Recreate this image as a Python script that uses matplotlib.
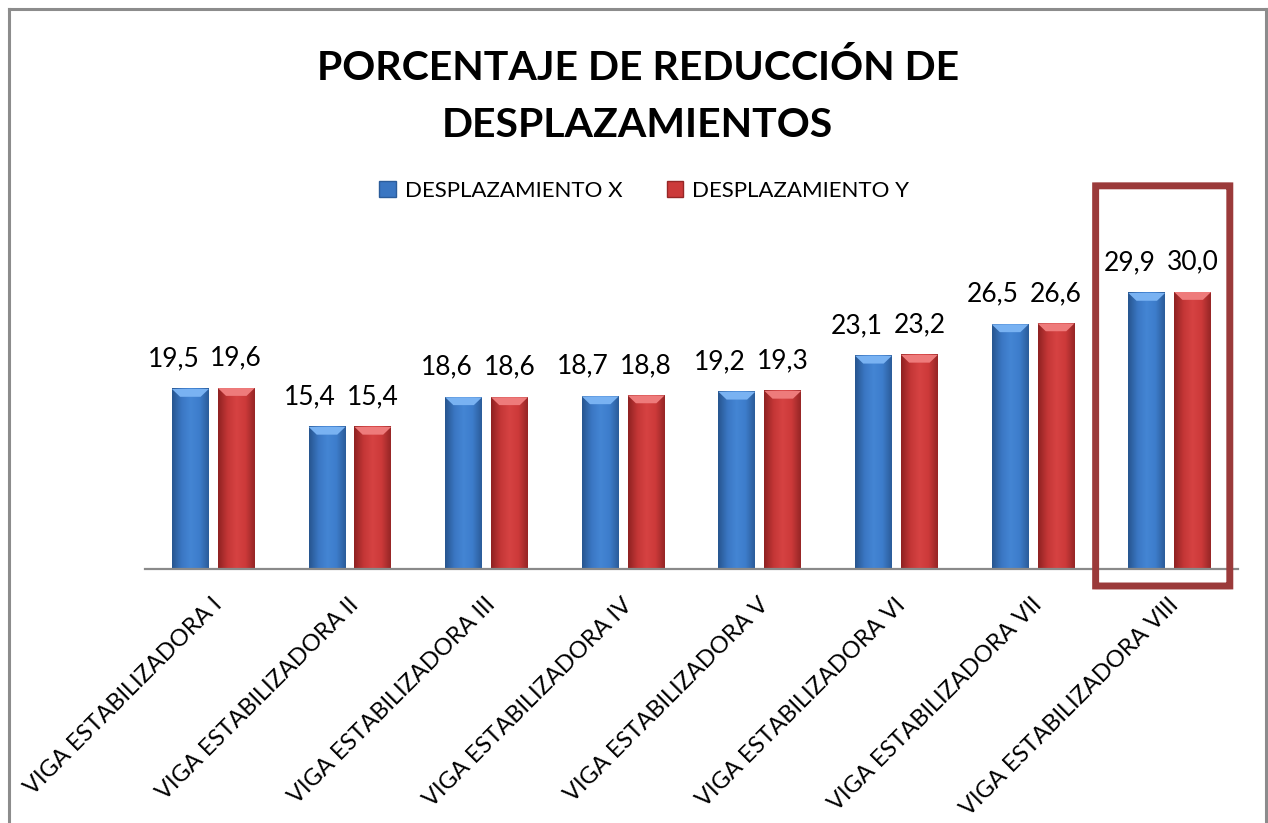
import numpy as np
import matplotlib
matplotlib.use("Agg")
import matplotlib.pyplot as plt
import matplotlib.transforms as mtransforms
from matplotlib.patches import Polygon, FancyBboxPatch, Patch
from matplotlib.colors import LinearSegmentedColormap
from matplotlib.lines import Line2D

plt.rcParams['font.family'] = ['Lato', 'DejaVu Sans']

categories = ["VIGA ESTABILIZADORA I", "VIGA ESTABILIZADORA II", "VIGA ESTABILIZADORA III",
              "VIGA ESTABILIZADORA IV", "VIGA ESTABILIZADORA V", "VIGA ESTABILIZADORA VI",
              "VIGA ESTABILIZADORA VII", "VIGA ESTABILIZADORA VIII"]
desp_x = [19.5, 15.4, 18.6, 18.7, 19.2, 23.1, 26.5, 29.9]
desp_y = [19.6, 15.4, 18.6, 18.8, 19.3, 23.2, 26.6, 30.0]
series_names = ["DESPLAZAMIENTO X", "DESPLAZAMIENTO Y"]
title_lines = ["PORCENTAJE DE REDUCCIÓN DE", "DESPLAZAMIENTOS"]
highlight_index = 7

W, H = 1268, 823
fig = plt.figure(figsize=(W / 100, H / 100), dpi=100)
ax = fig.add_axes([145 / W, 1 - 569 / H, (1238 - 145) / W, (569 - 180) / H])
ax.set_xlim(-0.5, len(categories) - 0.5)
ax.set_ylim(0, 42.13)

blue_cmap = LinearSegmentedColormap.from_list(
    "b", ["#27558f", "#3a76c2", "#4485d4", "#3d7dcb", "#2b5c9a"])
red_cmap = LinearSegmentedColormap.from_list(
    "r", ["#8f2222", "#c33636", "#d64242", "#cc3a3a", "#962626"])
grad = np.linspace(0, 1, 64).reshape(1, -1)

bw = 0.27
off = 0.168
xs = np.arange(len(categories))


def fancy_bars(xpos, vals, cmap, top_color, label_shift_px):
    bars = ax.bar(xpos, vals, width=bw, color="none", zorder=3)
    shift = mtransforms.ScaledTranslation(label_shift_px / 100, 0, fig.dpi_scale_trans)
    for b in bars:
        x0, w, h = b.get_x(), b.get_width(), b.get_height()
        ax.imshow(grad, cmap=cmap, extent=[x0, x0 + w, 0, h], aspect="auto",
                  zorder=2, interpolation="bicubic")
        bh, bx = 0.85, 0.06
        ax.add_patch(Polygon([[x0, h], [x0 + w, h], [x0 + w - bx, h - bh],
                              [x0 + bx, h - bh]], closed=True,
                             facecolor=top_color, edgecolor="none", zorder=3))
        ax.text(x0 + w / 2, h + 1.9, f"{h:.1f}".replace(".", ","), ha="center",
                va="bottom", fontsize=19, color="black",
                transform=ax.transData + shift, zorder=5)
    return bars


fancy_bars(xs - off, desp_x, blue_cmap, "#79b2f2", -17)
fancy_bars(xs + off, desp_y, red_cmap, "#ee7b7b", 0)

ax.set_xlim(-0.5, len(categories) - 0.5)
ax.set_ylim(0, 42.13)

for s in ["top", "right", "left"]:
    ax.spines[s].set_visible(False)
ax.spines["bottom"].set_color("#8a8a8a")
ax.spines["bottom"].set_linewidth(1.6)
ax.set_yticks([])
ax.set_xticks(xs)
ax.tick_params(axis="x", length=0, pad=18)
ax.set_xticklabels(categories, rotation=45, ha="right", va="top",
                   rotation_mode="anchor", fontsize=17)
lbl_shift = mtransforms.ScaledTranslation(-2 / 100, 0, fig.dpi_scale_trans)
for lbl in ax.get_xticklabels():
    lbl.set_transform(lbl.get_transform() + lbl_shift)

# highlight frame around the last group
hx0 = highlight_index - 0.542
hx1 = highlight_index + 0.44
box = FancyBboxPatch((hx0, -1.84), hx1 - hx0, 41.5 + 1.84,
                     boxstyle="round,pad=0,rounding_size=0.03",
                     facecolor="none", edgecolor="#9b3a3a", linewidth=5.0,
                     clip_on=False, zorder=6, mutation_aspect=9.233 / 136.6)
ax.add_patch(box)

fig.text(0.503, 1 - 80 / H, title_lines[0], ha="center", va="baseline",
         fontsize=29.5, fontweight="bold")
fig.text(0.503, 1 - 137 / H, title_lines[1], ha="center", va="baseline",
         fontsize=29.5, fontweight="bold")

handles = [Patch(facecolor="#3a76c2", edgecolor="#2b5c9a"),
           Patch(facecolor="#cc3a3a", edgecolor="#962626")]
fig.legend(handles, series_names, loc="center", bbox_to_anchor=(0.508, 1 - 191 / H),
           ncol=2, frameon=False, fontsize=16, handlelength=0.75, handleheight=0.75,
           handletextpad=0.4, columnspacing=2.0)

# outer chart frame
fc = "#8c8c8c"
fig.add_artist(Line2D([9 / W, 9 / W], [0, 1 - 9 / H], color=fc, lw=2.2))
fig.add_artist(Line2D([9 / W, 1266 / W], [1 - 9 / H, 1 - 9 / H], color=fc, lw=2.2))
fig.add_artist(Line2D([1266 / W, 1266 / W], [0, 1 - 9 / H], color=fc, lw=2.2))

fig.savefig("out.png", dpi=100)
